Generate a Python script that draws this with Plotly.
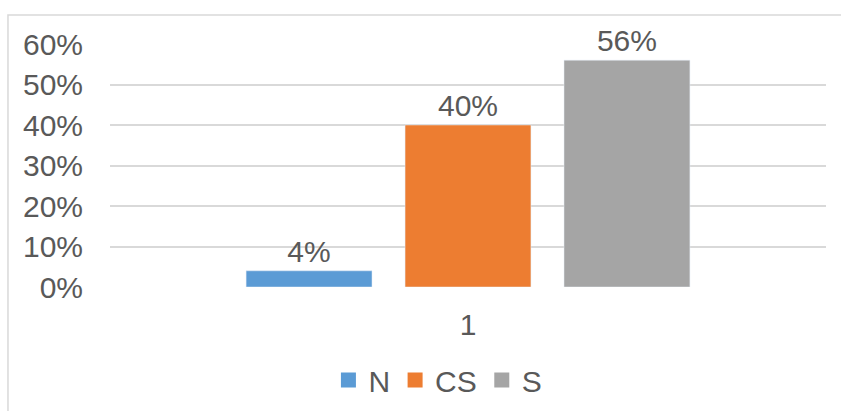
import plotly.graph_objects as go

categories = ["1"]
series_names = ["N", "CS", "S"]
series_values = [[0.04], [0.40], [0.56]]
colors = ["#5B9BD5", "#ED7D31", "#A5A5A5"]
tick_vals = [0, 0.1, 0.2, 0.3, 0.4, 0.5, 0.6]
tick_text = ["0%", "10%", "20%", "30%", "40%", "50%", "60%"]

FONT = "Liberation Sans, Arial, sans-serif"
GREY = "#595959"

fig = go.Figure()
for name, vals, col in zip(series_names, series_values, colors):
    fig.add_trace(go.Bar(
        x=categories, y=vals, name=name, marker_color=col,
        text=[f"{v:.0%}" for v in vals], textposition="outside",
        textfont=dict(family=FONT, size=30, color=GREY),
        cliponaxis=False, constraintext="none", showlegend=False,
    ))
# legend-only entries with larger square swatches
for name, col in zip(series_names, colors):
    fig.add_trace(go.Scatter(
        x=[None], y=[None], mode="markers", name=name,
        marker=dict(symbol="square", size=15, color=col),
    ))

fig.update_layout(
    width=841, height=411,
    margin=dict(l=110, r=15, t=44, b=124, autoexpand=False),
    paper_bgcolor="white", plot_bgcolor="white",
    barmode="group", bargap=0.334, bargroupgap=0.208,
    font=dict(family=FONT, size=30, color=GREY),
    xaxis=dict(showgrid=False, showline=False, zeroline=False,
               tickfont=dict(size=30, color=GREY), ticklabelstandoff=17),
    yaxis=dict(range=[0, 0.6], tickvals=tick_vals, ticktext=tick_text,
               showgrid=True, gridcolor="#D9D9D9", gridwidth=1.5,
               zeroline=False, showline=False,
               tickfont=dict(size=30, color=GREY), ticklabelstandoff=26),
    legend=dict(orientation="h", x=0.458, xanchor="center", y=-0.383, yanchor="middle",
                font=dict(size=30, color=GREY), itemwidth=30,
                traceorder="normal"),
    showlegend=True,
    shapes=[dict(type="path", xref="paper", yref="paper",
                 path="M -0.1425 -0.6 L -0.1425 1.119 L 1.03 1.119",
                 line=dict(color="#D9D9D9", width=1.5))],
)

fig.write_html("out.html", config={"displayModeBar": False},
               post_script="document.body.style.margin='0';document.body.style.overflow='hidden';")
